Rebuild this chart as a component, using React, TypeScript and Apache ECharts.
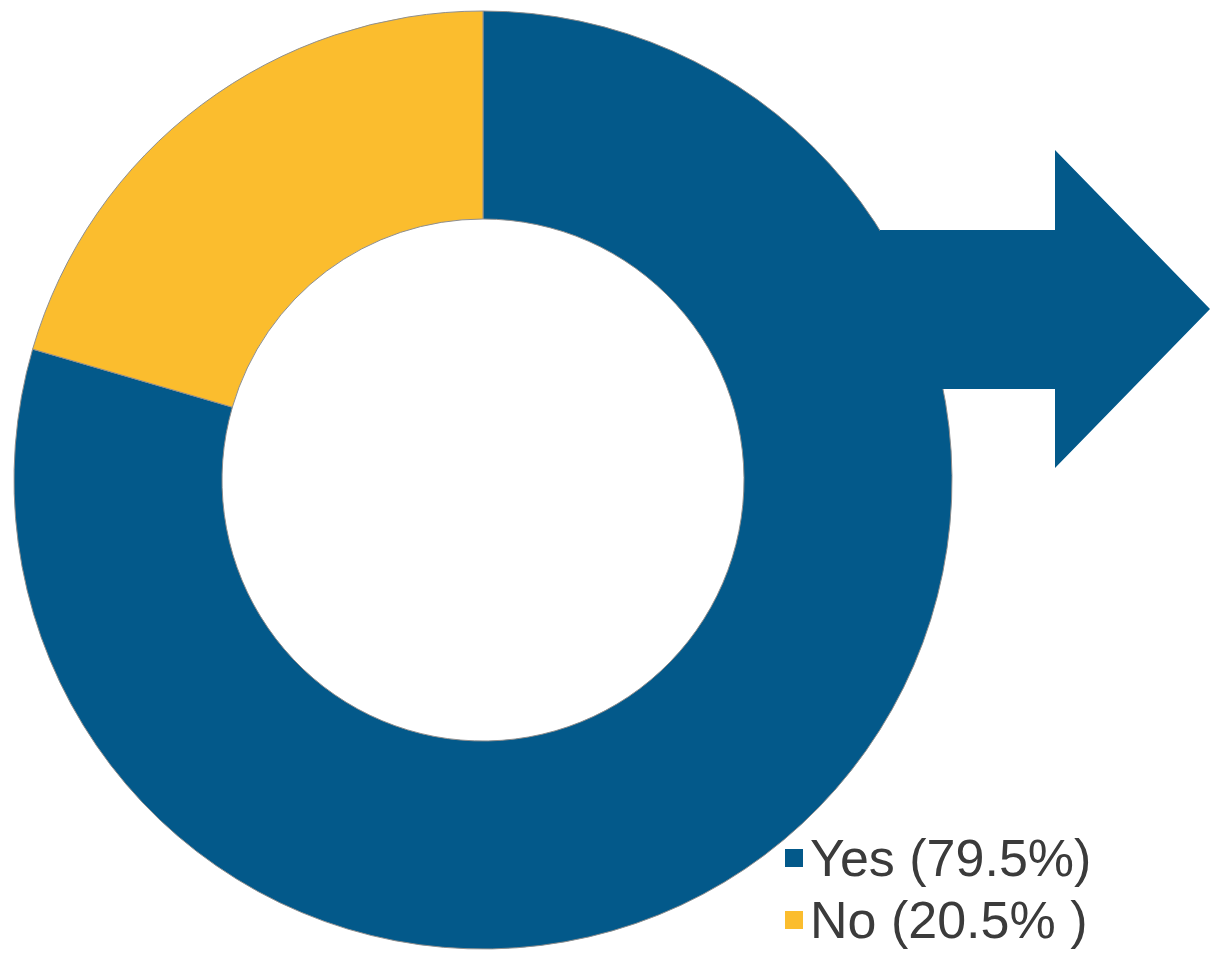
import React, { useEffect, useRef } from "react";
import * as echarts from "echarts";

const categories = ["Yes", "No"];
const values = [79.5, 20.5];
const legendLabels = ["Yes (79.5%)", "No (20.5% )"];
const colors = ["#03598A", "#FBBD2E"];

export default function App() {
  const ref = useRef<HTMLDivElement>(null);
  useEffect(() => {
    if (!ref.current) return;
    const chart = echarts.init(ref.current, null, { renderer: "svg" });
    const data = categories.map((c, i) => ({
      name: legendLabels[i],
      value: values[i],
      itemStyle: { color: colors[i] },
    }));
    chart.setOption({
      animation: false,
      backgroundColor: "#ffffff",
      legend: {
        orient: "vertical",
        left: 785,
        top: 832,
        padding: 0,
        icon: "rect",
        itemWidth: 18,
        itemHeight: 18,
        itemGap: 10,
        selectedMode: false,
        itemStyle: { borderWidth: 0 },
        data: legendLabels,
        textStyle: {
          fontSize: 52,
          fontFamily: "Liberation Sans, Arial, sans-serif",
          color: "#3b3b3b",
          padding: [0, 0, 0, 2],
          lineHeight: 52,
        },
      },
      series: [
        {
          type: "pie",
          center: [483, 480],
          radius: [261, 469],
          startAngle: 90,
          clockwise: true,
          label: { show: false },
          labelLine: { show: false },
          emphasis: { disabled: true },
          itemStyle: { borderColor: "#8f8f8f", borderWidth: 1 },
          data,
        },
      ],
      graphic: [
        {
          type: "polygon",
          z: 100,
          shape: {
            points: [
              [880, 230],
              [1055, 230],
              [1055, 150],
              [1210, 309],
              [1055, 468],
              [1055, 389],
              [880, 389],
            ],
          },
          style: { fill: colors[0] },
        },
      ],
    });
    return () => chart.dispose();
  }, []);
  return (
    <div
      ref={ref}
      style={{ position: "fixed", left: 0, top: 0, width: 1210, height: 953 }}
    />
  );
}
